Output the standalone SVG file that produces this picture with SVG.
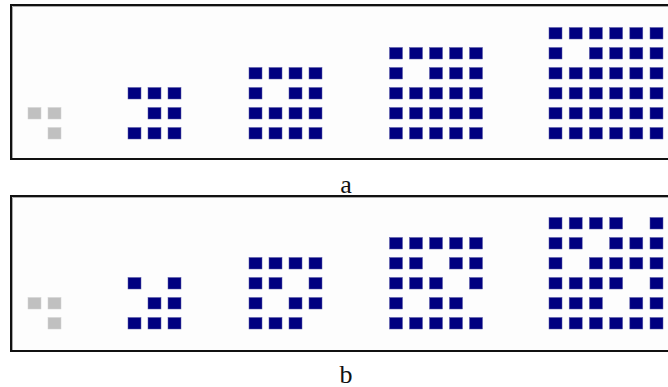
<svg xmlns="http://www.w3.org/2000/svg" width="668" height="387" viewBox="0 0 668 387">
<style>
.frame{fill:#fdfdfd;stroke:#111;stroke-width:2}
.inner{fill:none;stroke:#aaa;stroke-width:1}
.c{fill:#000080;stroke:#5a5aa8;stroke-width:0.5}
.g{fill:#c0c0c0;stroke:#d4d4d4;stroke-width:0.5}
.lbl{font-family:"Liberation Serif","DejaVu Serif",serif;font-size:26px;fill:#111;text-anchor:middle}
</style>
<rect width="668" height="387" fill="#ffffff"/>
<g id="panel-a">
<rect class="frame" x="11" y="5" width="680" height="154"/>
<path class="inner" d="M12.5,158 V6.5 H668"/>
<g id="a-grey">
<rect class="g" x="28" y="107.5" width="13" height="11.5"/><rect class="g" x="48" y="107.5" width="13" height="11.5"/>
<rect class="g" x="48" y="127.5" width="13" height="11.5"/>
</g>
<g id="a-3">
<rect class="c" x="128" y="87.5" width="13" height="11.5"/><rect class="c" x="148" y="87.5" width="13" height="11.5"/><rect class="c" x="168" y="87.5" width="13" height="11.5"/>
<rect class="c" x="148" y="107.5" width="13" height="11.5"/><rect class="c" x="168" y="107.5" width="13" height="11.5"/>
<rect class="c" x="128" y="127.5" width="13" height="11.5"/><rect class="c" x="148" y="127.5" width="13" height="11.5"/><rect class="c" x="168" y="127.5" width="13" height="11.5"/>
</g>
<g id="a-4">
<rect class="c" x="249" y="67.5" width="13" height="11.5"/><rect class="c" x="269" y="67.5" width="13" height="11.5"/><rect class="c" x="289" y="67.5" width="13" height="11.5"/><rect class="c" x="309" y="67.5" width="13" height="11.5"/>
<rect class="c" x="249" y="87.5" width="13" height="11.5"/><rect class="c" x="289" y="87.5" width="13" height="11.5"/><rect class="c" x="309" y="87.5" width="13" height="11.5"/>
<rect class="c" x="249" y="107.5" width="13" height="11.5"/><rect class="c" x="269" y="107.5" width="13" height="11.5"/><rect class="c" x="289" y="107.5" width="13" height="11.5"/><rect class="c" x="309" y="107.5" width="13" height="11.5"/>
<rect class="c" x="249" y="127.5" width="13" height="11.5"/><rect class="c" x="269" y="127.5" width="13" height="11.5"/><rect class="c" x="289" y="127.5" width="13" height="11.5"/><rect class="c" x="309" y="127.5" width="13" height="11.5"/>
</g>
<g id="a-5">
<rect class="c" x="389.5" y="47.5" width="13" height="11.5"/><rect class="c" x="409.5" y="47.5" width="13" height="11.5"/><rect class="c" x="429.5" y="47.5" width="13" height="11.5"/><rect class="c" x="449.5" y="47.5" width="13" height="11.5"/><rect class="c" x="469.5" y="47.5" width="13" height="11.5"/>
<rect class="c" x="389.5" y="67.5" width="13" height="11.5"/><rect class="c" x="429.5" y="67.5" width="13" height="11.5"/><rect class="c" x="449.5" y="67.5" width="13" height="11.5"/><rect class="c" x="469.5" y="67.5" width="13" height="11.5"/>
<rect class="c" x="389.5" y="87.5" width="13" height="11.5"/><rect class="c" x="409.5" y="87.5" width="13" height="11.5"/><rect class="c" x="429.5" y="87.5" width="13" height="11.5"/><rect class="c" x="449.5" y="87.5" width="13" height="11.5"/><rect class="c" x="469.5" y="87.5" width="13" height="11.5"/>
<rect class="c" x="389.5" y="107.5" width="13" height="11.5"/><rect class="c" x="409.5" y="107.5" width="13" height="11.5"/><rect class="c" x="429.5" y="107.5" width="13" height="11.5"/><rect class="c" x="449.5" y="107.5" width="13" height="11.5"/><rect class="c" x="469.5" y="107.5" width="13" height="11.5"/>
<rect class="c" x="389.5" y="127.5" width="13" height="11.5"/><rect class="c" x="409.5" y="127.5" width="13" height="11.5"/><rect class="c" x="429.5" y="127.5" width="13" height="11.5"/><rect class="c" x="449.5" y="127.5" width="13" height="11.5"/><rect class="c" x="469.5" y="127.5" width="13" height="11.5"/>
</g>
<g id="a-6">
<rect class="c" x="549" y="27.5" width="13" height="11.5"/><rect class="c" x="569.2" y="27.5" width="13" height="11.5"/><rect class="c" x="589.4" y="27.5" width="13" height="11.5"/><rect class="c" x="609.6" y="27.5" width="13" height="11.5"/><rect class="c" x="629.8" y="27.5" width="13" height="11.5"/><rect class="c" x="650" y="27.5" width="13" height="11.5"/>
<rect class="c" x="549" y="47.5" width="13" height="11.5"/><rect class="c" x="589.4" y="47.5" width="13" height="11.5"/><rect class="c" x="609.6" y="47.5" width="13" height="11.5"/><rect class="c" x="629.8" y="47.5" width="13" height="11.5"/><rect class="c" x="650" y="47.5" width="13" height="11.5"/>
<rect class="c" x="549" y="67.5" width="13" height="11.5"/><rect class="c" x="569.2" y="67.5" width="13" height="11.5"/><rect class="c" x="589.4" y="67.5" width="13" height="11.5"/><rect class="c" x="609.6" y="67.5" width="13" height="11.5"/><rect class="c" x="629.8" y="67.5" width="13" height="11.5"/><rect class="c" x="650" y="67.5" width="13" height="11.5"/>
<rect class="c" x="549" y="87.5" width="13" height="11.5"/><rect class="c" x="569.2" y="87.5" width="13" height="11.5"/><rect class="c" x="589.4" y="87.5" width="13" height="11.5"/><rect class="c" x="609.6" y="87.5" width="13" height="11.5"/><rect class="c" x="629.8" y="87.5" width="13" height="11.5"/><rect class="c" x="650" y="87.5" width="13" height="11.5"/>
<rect class="c" x="549" y="107.5" width="13" height="11.5"/><rect class="c" x="569.2" y="107.5" width="13" height="11.5"/><rect class="c" x="589.4" y="107.5" width="13" height="11.5"/><rect class="c" x="609.6" y="107.5" width="13" height="11.5"/><rect class="c" x="629.8" y="107.5" width="13" height="11.5"/><rect class="c" x="650" y="107.5" width="13" height="11.5"/>
<rect class="c" x="549" y="127.5" width="13" height="11.5"/><rect class="c" x="569.2" y="127.5" width="13" height="11.5"/><rect class="c" x="589.4" y="127.5" width="13" height="11.5"/><rect class="c" x="609.6" y="127.5" width="13" height="11.5"/><rect class="c" x="629.8" y="127.5" width="13" height="11.5"/><rect class="c" x="650" y="127.5" width="13" height="11.5"/>
</g>
<text class="lbl" x="346" y="192.5">a</text>
</g>
<g id="panel-b">
<rect class="frame" x="11" y="196" width="680" height="155"/>
<path class="inner" d="M12.5,350 V197.5 H668"/>
<g id="b-grey">
<rect class="g" x="28" y="297.5" width="13" height="11.5"/><rect class="g" x="48" y="297.5" width="13" height="11.5"/>
<rect class="g" x="48" y="317.5" width="13" height="11.5"/>
</g>
<g id="b-3">
<rect class="c" x="128" y="277.5" width="13" height="11.5"/><rect class="c" x="168" y="277.5" width="13" height="11.5"/>
<rect class="c" x="148" y="297.5" width="13" height="11.5"/><rect class="c" x="168" y="297.5" width="13" height="11.5"/>
<rect class="c" x="128" y="317.5" width="13" height="11.5"/><rect class="c" x="148" y="317.5" width="13" height="11.5"/><rect class="c" x="168" y="317.5" width="13" height="11.5"/>
</g>
<g id="b-4">
<rect class="c" x="249" y="257.5" width="13" height="11.5"/><rect class="c" x="269" y="257.5" width="13" height="11.5"/><rect class="c" x="289" y="257.5" width="13" height="11.5"/><rect class="c" x="309" y="257.5" width="13" height="11.5"/>
<rect class="c" x="249" y="277.5" width="13" height="11.5"/><rect class="c" x="269" y="277.5" width="13" height="11.5"/><rect class="c" x="309" y="277.5" width="13" height="11.5"/>
<rect class="c" x="249" y="297.5" width="13" height="11.5"/><rect class="c" x="289" y="297.5" width="13" height="11.5"/><rect class="c" x="309" y="297.5" width="13" height="11.5"/>
<rect class="c" x="249" y="317.5" width="13" height="11.5"/><rect class="c" x="269" y="317.5" width="13" height="11.5"/><rect class="c" x="289" y="317.5" width="13" height="11.5"/>
</g>
<g id="b-5">
<rect class="c" x="389.5" y="237.5" width="13" height="11.5"/><rect class="c" x="409.5" y="237.5" width="13" height="11.5"/><rect class="c" x="429.5" y="237.5" width="13" height="11.5"/><rect class="c" x="449.5" y="237.5" width="13" height="11.5"/><rect class="c" x="469.5" y="237.5" width="13" height="11.5"/>
<rect class="c" x="389.5" y="257.5" width="13" height="11.5"/><rect class="c" x="409.5" y="257.5" width="13" height="11.5"/><rect class="c" x="449.5" y="257.5" width="13" height="11.5"/><rect class="c" x="469.5" y="257.5" width="13" height="11.5"/>
<rect class="c" x="389.5" y="277.5" width="13" height="11.5"/><rect class="c" x="409.5" y="277.5" width="13" height="11.5"/><rect class="c" x="429.5" y="277.5" width="13" height="11.5"/><rect class="c" x="469.5" y="277.5" width="13" height="11.5"/>
<rect class="c" x="389.5" y="297.5" width="13" height="11.5"/><rect class="c" x="429.5" y="297.5" width="13" height="11.5"/><rect class="c" x="449.5" y="297.5" width="13" height="11.5"/>
<rect class="c" x="389.5" y="317.5" width="13" height="11.5"/><rect class="c" x="409.5" y="317.5" width="13" height="11.5"/><rect class="c" x="429.5" y="317.5" width="13" height="11.5"/><rect class="c" x="449.5" y="317.5" width="13" height="11.5"/><rect class="c" x="469.5" y="317.5" width="13" height="11.5"/>
</g>
<g id="b-6">
<rect class="c" x="549" y="217.5" width="13" height="11.5"/><rect class="c" x="569.2" y="217.5" width="13" height="11.5"/><rect class="c" x="589.4" y="217.5" width="13" height="11.5"/><rect class="c" x="609.6" y="217.5" width="13" height="11.5"/><rect class="c" x="650" y="217.5" width="13" height="11.5"/>
<rect class="c" x="549" y="237.5" width="13" height="11.5"/><rect class="c" x="569.2" y="237.5" width="13" height="11.5"/><rect class="c" x="609.6" y="237.5" width="13" height="11.5"/><rect class="c" x="629.8" y="237.5" width="13" height="11.5"/><rect class="c" x="650" y="237.5" width="13" height="11.5"/>
<rect class="c" x="549" y="257.5" width="13" height="11.5"/><rect class="c" x="589.4" y="257.5" width="13" height="11.5"/><rect class="c" x="609.6" y="257.5" width="13" height="11.5"/><rect class="c" x="629.8" y="257.5" width="13" height="11.5"/><rect class="c" x="650" y="257.5" width="13" height="11.5"/>
<rect class="c" x="549" y="277.5" width="13" height="11.5"/><rect class="c" x="569.2" y="277.5" width="13" height="11.5"/><rect class="c" x="589.4" y="277.5" width="13" height="11.5"/><rect class="c" x="609.6" y="277.5" width="13" height="11.5"/><rect class="c" x="650" y="277.5" width="13" height="11.5"/>
<rect class="c" x="549" y="297.5" width="13" height="11.5"/><rect class="c" x="569.2" y="297.5" width="13" height="11.5"/><rect class="c" x="589.4" y="297.5" width="13" height="11.5"/><rect class="c" x="629.8" y="297.5" width="13" height="11.5"/><rect class="c" x="650" y="297.5" width="13" height="11.5"/>
<rect class="c" x="549" y="317.5" width="13" height="11.5"/><rect class="c" x="569.2" y="317.5" width="13" height="11.5"/><rect class="c" x="589.4" y="317.5" width="13" height="11.5"/><rect class="c" x="609.6" y="317.5" width="13" height="11.5"/><rect class="c" x="629.8" y="317.5" width="13" height="11.5"/><rect class="c" x="650" y="317.5" width="13" height="11.5"/>
</g>
<text class="lbl" x="346" y="382.5">b</text>
</g>
</svg>
